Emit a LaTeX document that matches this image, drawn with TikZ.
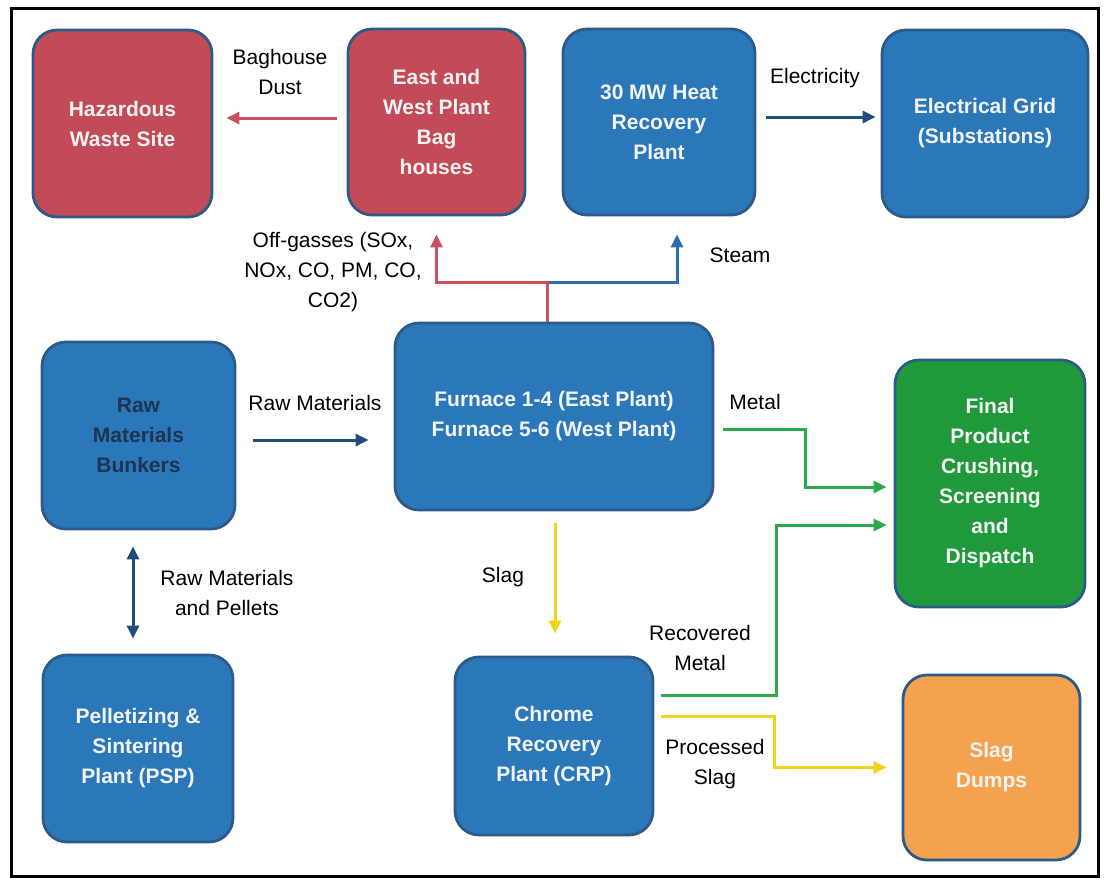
\documentclass[tikz,border=0pt]{standalone}
\usepackage{fontspec}
\setmainfont{Liberation Sans}
\usetikzlibrary{arrows.meta,calc}
\definecolor{boxblue}{HTML}{2A78BA}
\definecolor{boxborder}{HTML}{2C5B8A}
\definecolor{boxred}{HTML}{C24B57}
\definecolor{boxgreen}{HTML}{20993B}
\definecolor{boxorange}{HTML}{F5A24E}
\definecolor{navyline}{HTML}{1F4E79}
\definecolor{redline}{HTML}{C9505E}
\definecolor{greenline}{HTML}{2AAA4A}
\definecolor{yellowline}{HTML}{F2D21C}
\definecolor{steamline}{HTML}{2E6DAE}
\definecolor{darktext}{HTML}{1F3450}
\definecolor{boxtext}{HTML}{F2F2F2}
\tikzset{
  box/.style={draw=boxborder, line width=2.8pt, rounded corners=24pt, fill=boxblue,
    text=boxtext, align=center, inner sep=0pt,
    font=\fontsize{21}{30}\selectfont\bfseries},
  lbl/.style={align=center, inner sep=0pt, text=black, font=\fontsize{21}{30}\selectfont},
  flow/.style={line width=3pt, -{Triangle[length=13pt,width=12pt]}},
  flowboth/.style={line width=3pt, {Triangle[length=13pt,width=12pt]}-{Triangle[length=13pt,width=12pt]}},
}
\begin{document}
\begin{tikzpicture}[x=1pt,y=-1pt]
\useasboundingbox (0,0) rectangle (1104,879);
\draw[line width=3pt, black] (11,8) rectangle (1098,876);

% boxes
\node[box, fill=boxred, minimum width=179pt, minimum height=187pt] (haz) at (122.5,123.5) {Hazardous\\Waste Site};
\node[box, fill=boxred, minimum width=177pt, minimum height=186pt] (bag) at (436.5,122) {East and\\West Plant\\Bag\\houses};
\node[box, minimum width=192pt, minimum height=186pt] (heat) at (659,122) {30 MW Heat\\Recovery\\Plant};
\node[box, minimum width=206pt, minimum height=187pt] (grid) at (985,123.5) {Electrical Grid\\(Substations)};
\node[box, text=darktext, minimum width=193pt, minimum height=187pt] (bunk) at (138.5,435.5) {Raw\\Materials\\Bunkers};
\node[box, minimum width=318pt, minimum height=187pt] (furn) at (554,416.5) {Furnace 1-4 (East Plant)\\Furnace 5-6 (West Plant)};
\node[box, fill=boxgreen, minimum width=190pt, minimum height=247pt] (final) at (990,483.5) {Final\\Product\\Crushing,\\Screening\\and\\Dispatch};
\node[box, minimum width=190pt, minimum height=187pt] (psp) at (138,748.5) {Pelletizing \&\\Sintering\\Plant (PSP)};
\node[box, minimum width=198pt, minimum height=178pt] (crp) at (554,746) {Chrome\\Recovery\\Plant (CRP)};
\node[box, fill=boxorange, minimum width=177pt, minimum height=185pt] (dump) at (991.5,767.5) {Slag\\Dumps};

% split point above furnace
\coordinate (split) at (547,282);

% connectors
\draw[flow, redline] ([yshift=4pt,xshift=-10pt]bag.west) -- ([yshift=5.5pt,xshift=13pt]haz.east);
\draw[flow, navyline] ([yshift=5pt,xshift=10pt]heat.east) -- ([yshift=6.5pt,xshift=-5pt]grid.west);
\draw[flow, steamline] (split) -| ([xshift=18pt,yshift=-18pt]heat.south);
\draw[flow, redline] ([xshift=-7pt]furn.north) -- (split) -| ([yshift=-18pt]bag.south);
\draw[flow, navyline] ([xshift=17pt,yshift=-4.5pt]bunk.east) -- ([xshift=-25pt,yshift=-23.5pt]furn.west);
\draw[flowboth, navyline] ([xshift=-5.5pt,yshift=-16pt]bunk.south) -- ([xshift=-5pt,yshift=15pt]psp.north);
\draw[flow, yellowline] ([xshift=1pt,yshift=-12pt]furn.south) -- ([xshift=1pt,yshift=22pt]crp.north);
\draw[flow, greenline] ([xshift=9pt,yshift=-13pt]furn.east) -- ++(82,0) |- ([xshift=-7pt,yshift=-3.5pt]final.west);
\draw[flow, greenline] ([xshift=7pt,yshift=51pt]crp.east) -- ++(115,0) |- ([xshift=-7pt,yshift=-41.5pt]final.west);
\draw[flow, yellowline] ([xshift=7pt,yshift=30pt]crp.east) -- ++(113,0) |- ([xshift=-15pt]dump.west);

% labels
\node[lbl] (lbag) at (280,72) {Baghouse\\Dust};
\node[lbl] (lele) at (815,78) {Electricity};
\node[lbl] (loff) at (333,272) {Off-gasses (SOx,\\NOx, CO, PM, CO,\\CO2)};
\node[lbl] (lsteam) at (740,255) {Steam};
\node[lbl] (lraw) at (315,403) {Raw Materials};
\node[lbl] (lmetal) at (755,402) {Metal};
\node[lbl] (lslag) at (503,577) {Slag};
\node[lbl] (lpel) at (227,593) {Raw Materials\\and Pellets};
\node[lbl] (lrec) at (700,648) {Recovered\\Metal};
\node[lbl] (lproc) at (715,764) {Processed\\Slag};
\end{tikzpicture}
\end{document}
